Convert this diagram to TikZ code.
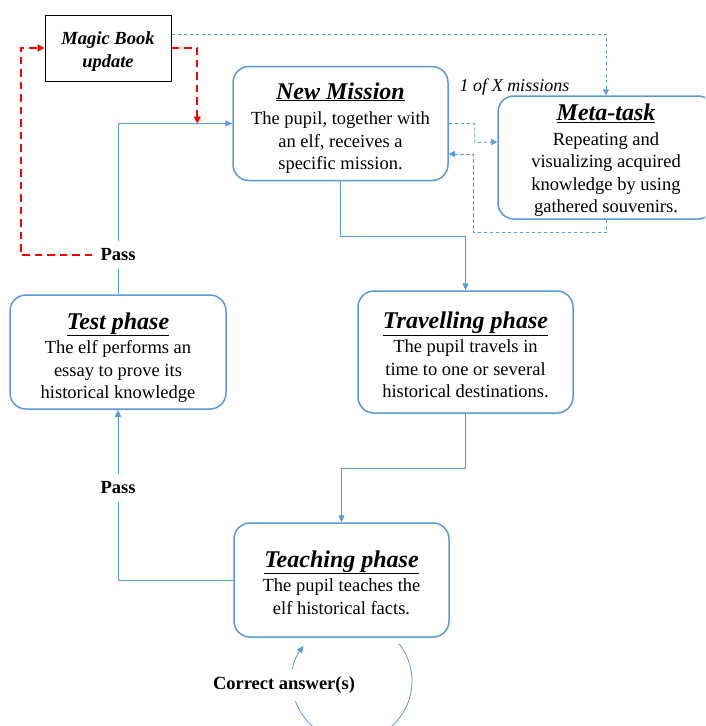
\documentclass[tikz,border=0pt]{standalone}
\usepackage{fontspec}
\setmainfont{Liberation Serif}
\usepackage{tikz}
\usetikzlibrary{positioning,arrows.meta}
\definecolor{boxblue}{RGB}{91,155,213}
\definecolor{magicred}{RGB}{255,0,0}
\newcommand{\phasetitle}[2][24pt]{{\fontsize{24}{26}\selectfont\bfseries\itshape\rule{0pt}{#1}\underline{#2}}}
\tikzset{
  phase/.style={
    draw=boxblue, line width=1.5pt, rounded corners=16pt, fill=white,
    minimum width=215pt, minimum height=114pt, inner sep=0pt, align=center,
    font=\fontsize{18.5}{22.5}\selectfont
  },
  book/.style={
    draw, line width=1pt, fill=white, minimum width=126pt, minimum height=66pt,
    inner sep=0pt, align=center, font=\fontsize{18.5}{23}\selectfont\bfseries\itshape
  },
  passlabel/.style={
    fill=white, inner sep=8pt, font=\fontsize{18.5}{22}\selectfont\bfseries
  },
  link/.style={draw=boxblue, line width=0.8pt},
  flow/.style={link, -{Triangle[length=7pt,width=6pt]}},
  dashflow/.style={link, dash pattern=on 3.5pt off 2.5pt, -{Triangle[length=6pt,width=6pt]}},
  magic/.style={draw=magicred, line width=2pt, dash pattern=on 7.5pt off 5pt, -{Triangle[length=7pt,width=7pt]}}
}

\begin{document}
\begin{tikzpicture}
        \useasboundingbox (0,0) rectangle (705pt,-726pt);
        \clip (0,0) rectangle (705pt,-726pt);
        \node [phase] (Mission) at (340.5pt,-123.5pt) {\phasetitle[25.5pt]{New Mission}\\[3pt] The pupil, together with\\ an elf, receives a\\ specific mission.};
        \node [phase, on grid, minimum width=216pt, minimum height=123pt, below right=34pt and 265.5pt of Mission] (Meta) {\phasetitle[22.5pt]{Meta-task}\\[2pt] Repeating and\\ visualizing acquired\\ knowledge by using\\ gathered souvenirs.};
        \node [book, on grid, above left=75.5pt and 232.5pt of Mission] (Book) {\rule{0pt}{20.5pt}Magic Book\\ update};
        \node [on grid, above right=36.5pt and 174pt of Mission, font=\fontsize{18}{22}\selectfont\itshape] (Count) {1 of X missions};
        \node [phase, on grid, minimum height=122pt, below right=228.5pt and 125pt of Mission] (Travel) {\phasetitle[22.5pt]{Travelling phase}\\[2pt] The pupil travels in\\ time to one or several\\ historical destinations.};
        \node [phase, on grid, minimum width=216pt, below left=228.5pt and 222.5pt of Mission] (Test) {\phasetitle[27.5pt]{Test phase}\\[2pt] The elf performs an\\ essay to prove its\\ historical knowledge};
        \node [phase, on grid, below right=456.5pt and 1pt of Mission] (Teach) {\phasetitle[21.5pt]{Teaching phase}\\[2pt] The pupil teaches the\\ elf historical facts.};
        \node [passlabel, on grid, above=97pt of Test] (PassUp) {Pass};
        \node [passlabel, on grid, below=136pt of Test] (PassDown) {Pass};
        \draw [flow] (Mission.south) -- ++(0,-55pt) -| (Travel.north);
        \draw [flow] (Travel.south) -- ++(0,-55pt) -| (Teach.north);
        \draw [link] (Teach.west) -| (PassDown.south);
        \draw [flow] (PassDown.north) -- (Test.south);
        \draw [link] (Test.north) -- (PassUp.south);
        \draw [flow] (PassUp.north) |- (Mission.west);
        \draw [magic] (PassUp.west) -| ([xshift=-24pt]Book.west) -- (Book.west);
        \draw [magic] (Book.east) -| ([xshift=-35pt]Mission.west);
        \draw [dashflow] ([yshift=14pt]Book.east) -| (Meta.north);
        \draw [dashflow] (Mission.east) -| ++(26pt,-19pt) -- ([yshift=15.5pt]Meta.west);
        \draw [dashflow] (Meta.south) |- ++(-133pt,-13pt) |- ([yshift=-30.5pt]Mission.east);
        \draw [flow] ([shift={(57.5pt,-6pt)}]Teach.south) arc [start angle=38.5, end angle=-216, radius=60pt];
        \node [passlabel, on grid, below left=105pt and 57.5pt of Teach] (Correct) {Correct answer(s)};
      \end{tikzpicture}
\end{document}
